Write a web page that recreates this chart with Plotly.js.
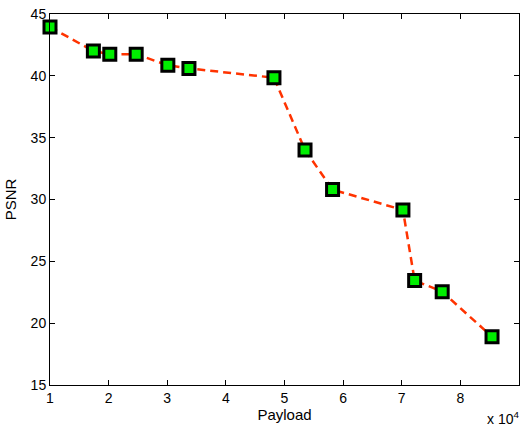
<!DOCTYPE html>
<html>
<head>
<meta charset="utf-8">
<script src="https://cdn.plot.ly/plotly-3.0.1.min.js"></script>
<style>html,body{margin:0;padding:0;background:#fff;}#chart{width:520px;height:428px;}</style>
</head>
<body>
<div id="chart"></div>
<script>
const payload = [1.0, 1.74, 2.02, 2.47, 3.01, 3.37, 4.82, 5.35, 5.82, 7.02, 7.22, 7.69, 8.54]; // x 10^4
const psnr = [43.95, 42.0, 41.75, 41.75, 40.85, 40.6, 39.85, 34.0, 30.8, 29.15, 23.45, 22.55, 18.9];
const xTicks = [1, 2, 3, 4, 5, 6, 7, 8, 9];
const yTicks = [15, 20, 25, 30, 35, 40, 45];

const fam = 'Liberation Sans, Arial, sans-serif';
const tickFont = {family: fam, size: 14, color: '#000'};
const titleFont = {family: fam, size: 15, color: '#000'};

const trace = {
  x: payload, y: psnr, type: 'scatter', mode: 'lines+markers',
  line: {color: '#ff3300', width: 2.5, dash: '8px,5px'},
  marker: {symbol: 'square', size: 12, color: '#00ee00', line: {color: '#000', width: 3}},
  cliponaxis: false
};

const layout = {
  width: 520, height: 428,
  margin: {l: 50, r: 1, t: 14, b: 43},
  paper_bgcolor: '#fff', plot_bgcolor: '#fff',
  font: tickFont,
  showlegend: false,
  xaxis: {
    range: [1, 9], tickvals: xTicks, ticktext: xTicks.map(String),
    ticks: 'inside', ticklen: 5, tickcolor: '#000', tickwidth: 1,
    showline: true, linecolor: '#000', linewidth: 1, mirror: 'ticks',
    showgrid: false, zeroline: false,
    title: {text: 'Payload', font: titleFont, standoff: 4},
    tickfont: tickFont
  },
  yaxis: {
    range: [15, 45], tickvals: yTicks, ticktext: yTicks.map(String),
    ticks: 'inside', ticklen: 5, tickcolor: '#000', tickwidth: 1,
    showline: true, linecolor: '#000', linewidth: 1, mirror: 'ticks',
    showgrid: false, zeroline: false,
    title: {text: 'PSNR', font: titleFont, standoff: 10},
    tickfont: tickFont
  },
  annotations: [{
    text: 'x 10<sup>4</sup>', xref: 'paper', yref: 'paper', x: 1, y: 0,
    xanchor: 'right', yanchor: 'top', yshift: -22, xshift: 2, showarrow: false,
    font: {family: fam, size: 14, color: '#000'}
  }]
};

Plotly.newPlot('chart', [trace], layout, {displayModeBar: false, staticPlot: true});
</script>
</body>
</html>
